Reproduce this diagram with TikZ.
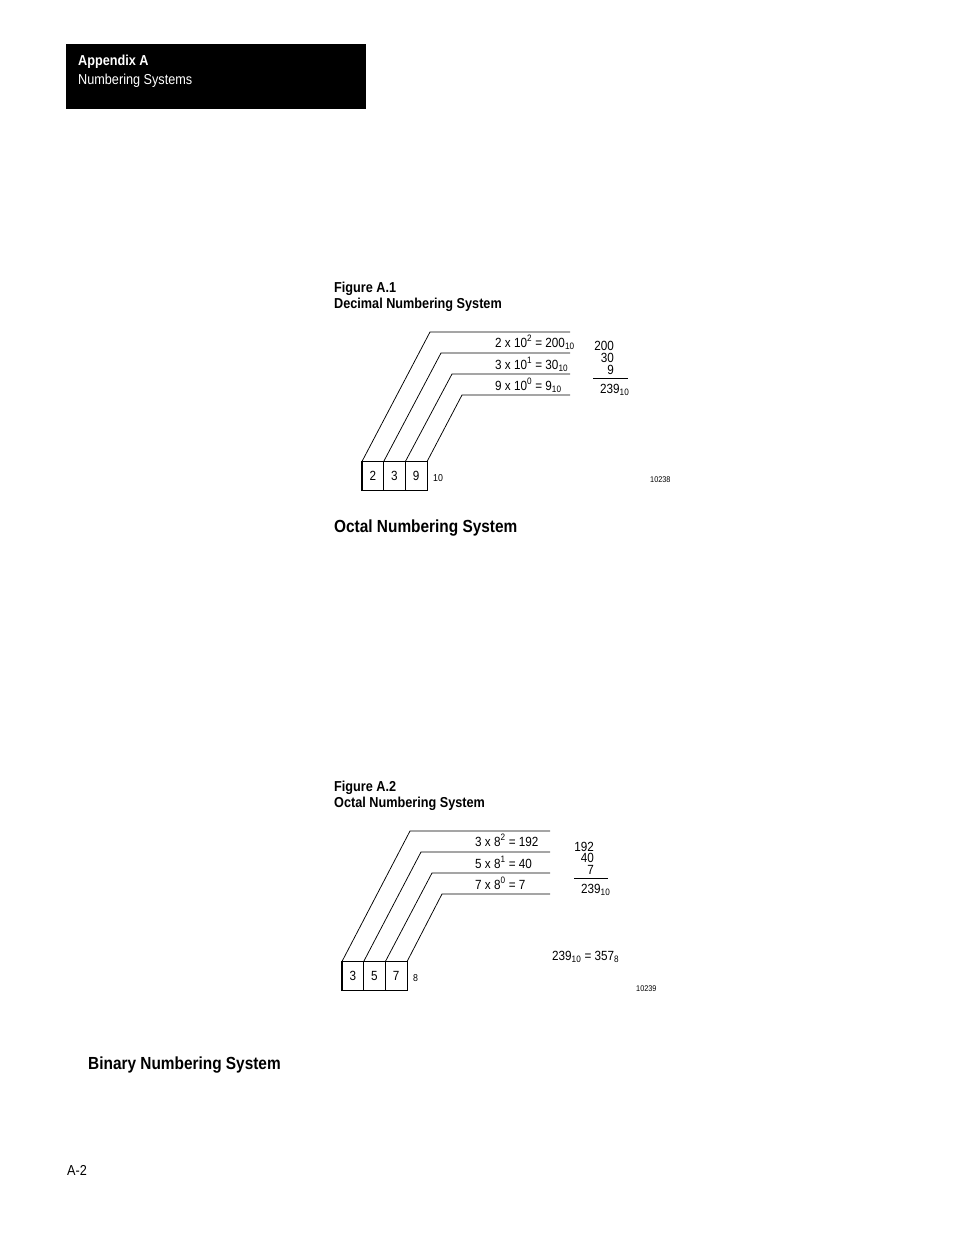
\documentclass[tikz,border=0pt]{standalone}
\usepackage{fontspec}
\setmainfont{Liberation Sans}[FakeStretch=0.88]
\newcommand\fsCap{\fontsize{14.4}{17}\selectfont\bfseries}
\newcommand\fsHead{\fontsize{17.5}{20}\selectfont\bfseries}
\newcommand\fsHdr{\fontsize{14.4}{17}\selectfont}
\newcommand\fsDiag{\fontsize{13.3}{16}\selectfont}
\newcommand\fsBase{\fontsize{10}{12}\selectfont}
\newcommand\fsTiny{\fontsize{8.3}{10}\selectfont}
\begin{document}
\begin{tikzpicture}[x=1pt,y=-1pt,
  lead/.style={line width=0.75pt},
  cell/.style={draw,line width=1.1pt,minimum width=21.7pt,minimum height=28.5pt,inner sep=0pt,outer sep=0pt,font=\fsDiag},
  txt/.style={anchor=base west,inner sep=0pt,font=\fsDiag},
  rtxt/.style={anchor=base east,inner sep=0pt,font=\fsDiag},
  captxt/.style={anchor=base west,inner sep=0pt,font=\fsCap},
  headtxt/.style={anchor=base west,inner sep=0pt,font=\fsHead}]
\useasboundingbox (0,0) rectangle (954,1235);
\fill[white] (0,0) rectangle (954,1235);

% header
\node[fill=black,minimum width=300pt,minimum height=65pt,anchor=north west,inner sep=0pt,outer sep=0pt] (hdr) at (66,44) {};
\node[anchor=base west,inner sep=0pt,text=white,font=\fsHdr\bfseries] (hdr1) at (78,65) {Appendix A};
\node[anchor=base west,inner sep=0pt,text=white,font=\fsHdr] (hdr2) at (78,84) {Numbering Systems};

% Figure A.1
\node[captxt] (f1a) at (334,292) {Figure A.1};
\node[captxt] (f1b) at (334,308) {Decimal Numbering System};

\node[cell] (d1) at (372.8,475.8) {2};
\node[cell] (d2) at (394.5,475.8) {3};
\node[cell] (d3) at (416.2,475.8) {9};
\coordinate (p1) at (430,332); \coordinate (q1) at (570,332);
\coordinate (p2) at (441,353); \coordinate (q2) at (570,353);
\coordinate (p3) at (452,374); \coordinate (q3) at (570,374);
\coordinate (p4) at (462,395); \coordinate (q4) at (570,395);
\draw[lead] (d1.north west) -- (p1) -- (q1);
\draw[lead] (d1.north east) -- (p2) -- (q2);
\draw[lead] (d2.north east) -- (p3) -- (q3);
\draw[lead] (d3.north east) -- (p4) -- (q4);
\node[txt] (e1) at (495,347) {2 x 10\textsuperscript{2} = 200\textsubscript{10}};
\node[txt] (e2) at (495,369) {3 x 10\textsuperscript{1} = 30\textsubscript{10}};
\node[txt] (e3) at (495,390) {9 x 10\textsuperscript{0} = 9\textsubscript{10}};
\node[rtxt] (s1) at (614,350) {200};
\node[rtxt] (s2) at (614,362) {30};
\node[rtxt] (s3) at (614,374) {9};
\coordinate (r1a) at (593,378); \coordinate (r1b) at (628,378);
\draw[lead] (r1a) -- (r1b);
\node[txt] (t1) at (600,393) {239\textsubscript{10}};
\node[anchor=west,inner sep=0pt,font=\fsBase] (b1) at (433,478) {10};
\node[anchor=west,inner sep=0pt,font=\fsTiny] (n1) at (650,480) {10238};

% Octal heading
\node[headtxt] (h1) at (334,532) {Octal Numbering System};

% Figure A.2
\node[captxt] (f2a) at (334,791) {Figure A.2};
\node[captxt] (f2b) at (334,807) {Octal Numbering System};

\node[cell] (o1) at (352.8,975.8) {3};
\node[cell] (o2) at (374.5,975.8) {5};
\node[cell] (o3) at (396.2,975.8) {7};
\coordinate (u1) at (410,831); \coordinate (v1) at (550,831);
\coordinate (u2) at (421,852); \coordinate (v2) at (550,852);
\coordinate (u3) at (432,873); \coordinate (v3) at (550,873);
\coordinate (u4) at (442,894); \coordinate (v4) at (550,894);
\draw[lead] (o1.north west) -- (u1) -- (v1);
\draw[lead] (o1.north east) -- (u2) -- (v2);
\draw[lead] (o2.north east) -- (u3) -- (v3);
\draw[lead] (o3.north east) -- (u4) -- (v4);
\node[txt] (g1) at (475,846) {3 x 8\textsuperscript{2} = 192};
\node[txt] (g2) at (475,868) {5 x 8\textsuperscript{1} = 40};
\node[txt] (g3) at (475,889) {7 x 8\textsuperscript{0} = 7};
\node[rtxt] (k1) at (594,851) {192};
\node[rtxt] (k2) at (594,862) {40};
\node[rtxt] (k3) at (594,874) {7};
\coordinate (r2a) at (574,878); \coordinate (r2b) at (608,878);
\draw[lead] (r2a) -- (r2b);
\node[txt] (t2) at (581,893) {239\textsubscript{10}};
\node[txt] (eq) at (552,960) {239\textsubscript{10} = 357\textsubscript{8}};
\node[anchor=west,inner sep=0pt,font=\fsBase] (b2) at (413,978) {8};
\node[anchor=west,inner sep=0pt,font=\fsTiny] (n2) at (636,989) {10239};

% Binary heading
\node[headtxt] (h2) at (88,1069) {Binary Numbering System};

% page number
\node[anchor=base west,inner sep=0pt,font=\fsHdr] (pg) at (67,1175) {A-2};
\end{tikzpicture}
\end{document}
